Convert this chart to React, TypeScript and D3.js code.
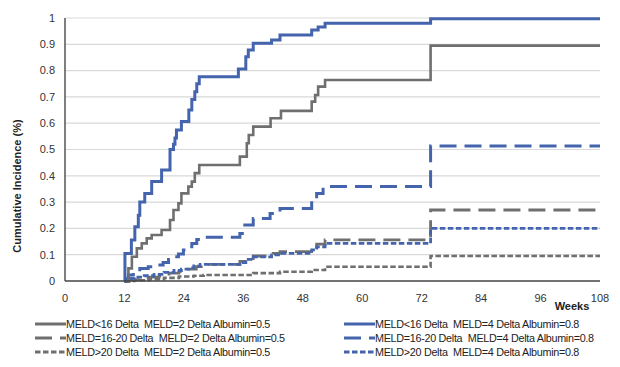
import React, { useRef, useEffect } from "react";
import * as d3 from "d3";

// [week, cumulative incidence] step points
const meldLow2: [number, number][] = [
  [12, 0], [12.8, 0.048], [13.5, 0.092], [14.5, 0.124], [15.5, 0.143], [16.5, 0.162],
  [17.5, 0.175], [19.5, 0.194], [21.2, 0.232], [21.9, 0.27], [22.9, 0.295], [23.5, 0.333],
  [24.9, 0.359], [25.6, 0.378], [26.2, 0.41], [27.1, 0.441], [35.3, 0.473], [36.7, 0.524],
  [37.1, 0.555], [38, 0.587], [41.5, 0.619], [43.6, 0.647], [49.8, 0.682], [50.5, 0.707],
  [51.1, 0.739], [52.5, 0.764], [73.8, 0.895], [108, 0.895],
];
const meldMid2: [number, number][] = [
  [12, 0], [13, 0.005], [15, 0.01], [17, 0.015], [19, 0.02], [21, 0.03], [23, 0.037],
  [25, 0.045], [26.5, 0.055], [27.5, 0.063], [35.3, 0.075], [37, 0.085], [38, 0.095],
  [41.7, 0.105], [43.4, 0.112], [49.8, 0.125], [50.8, 0.14], [52.5, 0.156], [73.8, 0.27],
  [108, 0.27],
];
const meldHigh2: [number, number][] = [
  [12, 0], [14, 0.003], [17, 0.007], [20, 0.012], [23, 0.017], [26, 0.02], [28, 0.023],
  [38, 0.03], [43.4, 0.035], [49.8, 0.042], [52.5, 0.054], [73.8, 0.095], [108, 0.095],
];
const meldLow4: [number, number][] = [
  [12, 0], [12.1, 0.105], [13.4, 0.156], [14.1, 0.206], [14.8, 0.25], [15.1, 0.3],
  [16.1, 0.333], [17.5, 0.378], [19.5, 0.422], [21.2, 0.5], [21.9, 0.52], [22.2, 0.544],
  [22.5, 0.574], [23.5, 0.606], [25, 0.65], [25.6, 0.69], [26.2, 0.72], [26.6, 0.75],
  [27.1, 0.777], [35, 0.806], [36.5, 0.853], [37, 0.878], [38, 0.904], [41.7, 0.916],
  [43.4, 0.935], [49.8, 0.954], [51.1, 0.966], [52.5, 0.98], [73.8, 0.997], [108, 0.997],
];
const meldMid4: [number, number][] = [
  [12, 0], [12.8, 0.023], [13.8, 0.035], [15.1, 0.048], [16.8, 0.054], [18.2, 0.061],
  [19.8, 0.07], [20.9, 0.082], [21.9, 0.092], [22.9, 0.103], [23.9, 0.118], [24.6, 0.13],
  [25.6, 0.143], [26.6, 0.158], [27.3, 0.166], [35.3, 0.181], [36.3, 0.213], [38, 0.238],
  [41.4, 0.257], [43.4, 0.276], [49.8, 0.308], [50.8, 0.333], [52.1, 0.359], [73.8, 0.513],
  [108, 0.513],
];
const meldHigh4: [number, number][] = [
  [12, 0], [12.5, 0.01], [14, 0.015], [16, 0.02], [18, 0.025], [20, 0.033], [22, 0.04],
  [23.5, 0.045], [25, 0.05], [26, 0.057], [27.3, 0.063], [35.3, 0.07], [36.5, 0.082],
  [38, 0.092], [41.7, 0.099], [43.4, 0.105], [49.8, 0.118], [50.8, 0.13], [52.5, 0.143],
  [73.8, 0.2], [108, 0.2],
];

const seriesNames = [
  "MELD<16 Delta  MELD=2 Delta Albumin=0.5",
  "MELD=16-20 Delta  MELD=2 Delta Albumin=0.5",
  "MELD>20 Delta  MELD=2 Delta Albumin=0.5",
  "MELD<16 Delta  MELD=4 Delta Albumin=0.8",
  "MELD=16-20 Delta  MELD=4 Delta Albumin=0.8",
  "MELD>20 Delta  MELD=4 Delta Albumin=0.8",
];
const xTicks = [0, 12, 24, 36, 48, 60, 72, 84, 96, 108];
const yTicks = [0, 0.1, 0.2, 0.3, 0.4, 0.5, 0.6, 0.7, 0.8, 0.9, 1];

const BLUE = "#4464ad";
const GRAY = "#6f6f6f";

const App = () => {
  const ref = useRef<SVGSVGElement>(null);

  useEffect(() => {
    const width = 620;
    const height = 367;
    const svg = d3.select(ref.current).attr("width", width).attr("height", height);
    svg.selectAll("*").remove();

    const x = d3.scaleLinear().domain([0, 108]).range([65, 600]);
    const y = d3.scaleLinear().domain([0, 1]).range([281, 18]);
    const font = "'Liberation Sans', Arial, sans-serif";

    // gridlines
    svg
      .append("g")
      .selectAll("line")
      .data(yTicks.slice(1))
      .enter()
      .append("line")
      .attr("x1", x(0))
      .attr("x2", x(108))
      .attr("y1", (d) => y(d))
      .attr("y2", (d) => y(d))
      .attr("stroke", "#d9d9d9")
      .attr("stroke-width", 1.2);

    // y tick labels
    svg
      .append("g")
      .selectAll("text")
      .data(yTicks)
      .enter()
      .append("text")
      .attr("x", 55)
      .attr("y", (d) => y(d))
      .attr("dy", "0.35em")
      .attr("text-anchor", "end")
      .style("font-family", font)
      .style("font-size", "11px")
      .style("fill", "#333")
      .text((d) => d3.format("~g")(d));

    // x tick labels
    svg
      .append("g")
      .selectAll("text")
      .data(xTicks)
      .enter()
      .append("text")
      .attr("x", (d) => x(d))
      .attr("y", 302)
      .attr("text-anchor", "middle")
      .style("font-family", font)
      .style("font-size", "11px")
      .style("fill", "#333")
      .text((d) => d);

    svg
      .append("text")
      .attr("x", 572)
      .attr("y", 310)
      .attr("text-anchor", "middle")
      .style("font-family", font)
      .style("font-size", "11px")
      .style("font-weight", "bold")
      .style("fill", "#222")
      .text("Weeks");

    svg
      .append("text")
      .attr("transform", `translate(21, 186) rotate(-90)`)
      .attr("text-anchor", "middle")
      .style("font-family", font)
      .style("font-size", "11px")
      .style("font-weight", "bold")
      .style("fill", "#222")
      .text("Cumulative Incidence (%)");

    const line = d3
      .line<[number, number]>()
      .x((d) => x(d[0]))
      .y((d) => y(d[1]))
      .curve(d3.curveStepAfter);

    const series = [
      { data: meldHigh2, color: GRAY, dash: "5.5,2.5", w: 2.6 },
      { data: meldMid2, color: GRAY, dash: "17,8", w: 2.8 },
      { data: meldHigh4, color: BLUE, dash: "5.5,2.5", w: 2.8 },
      { data: meldMid4, color: BLUE, dash: "17,8", w: 3 },
      { data: meldLow2, color: GRAY, dash: null, w: 2.6 },
      { data: meldLow4, color: BLUE, dash: null, w: 3 },
    ];

    svg
      .append("g")
      .selectAll("path")
      .data(series)
      .enter()
      .append("path")
      .attr("d", (d) => line(d.data))
      .attr("fill", "none")
      .attr("stroke", (d) => d.color)
      .attr("stroke-width", (d) => d.w)
      .attr("stroke-dasharray", (d) => d.dash);

    // axes lines
    svg
      .append("line")
      .attr("x1", x(0))
      .attr("x2", x(0))
      .attr("y1", y(1))
      .attr("y2", y(0))
      .attr("stroke", "#555")
      .attr("stroke-width", 1.5);
    svg
      .append("line")
      .attr("x1", x(0))
      .attr("x2", x(108))
      .attr("y1", y(0))
      .attr("y2", y(0))
      .attr("stroke", "#444")
      .attr("stroke-width", 1.5);

    // legend
    const legendItems = [
      { name: seriesNames[0], color: GRAY, dash: null },
      { name: seriesNames[1], color: GRAY, dash: "17,8" },
      { name: seriesNames[2], color: GRAY, dash: "5.5,2.5" },
      { name: seriesNames[3], color: BLUE, dash: null },
      { name: seriesNames[4], color: BLUE, dash: "17,8" },
      { name: seriesNames[5], color: BLUE, dash: "5.5,2.5" },
    ];
    const legend = svg
      .append("g")
      .selectAll("g")
      .data(legendItems)
      .enter()
      .append("g")
      .attr("transform", (d, i) => `translate(${i < 3 ? 35 : 344}, ${324 + (i % 3) * 14})`);
    legend
      .append("line")
      .attr("x1", 0)
      .attr("x2", 31)
      .attr("stroke", (d) => d.color)
      .attr("stroke-width", 3)
      .attr("stroke-dasharray", (d) => d.dash);
    legend
      .append("text")
      .attr("x", 31)
      .attr("dy", "0.35em")
      .style("font-family", font)
      .style("font-size", "10.8px")
      .style("letter-spacing", "-0.3px")
      .style("fill", "#222")
      .style("white-space", "pre")
      .text((d) => d.name);
  }, []);

  return (
    <div style={{ position: "absolute", left: 0, top: 0 }}>
      <svg ref={ref}></svg>
    </div>
  );
};

export default App;
